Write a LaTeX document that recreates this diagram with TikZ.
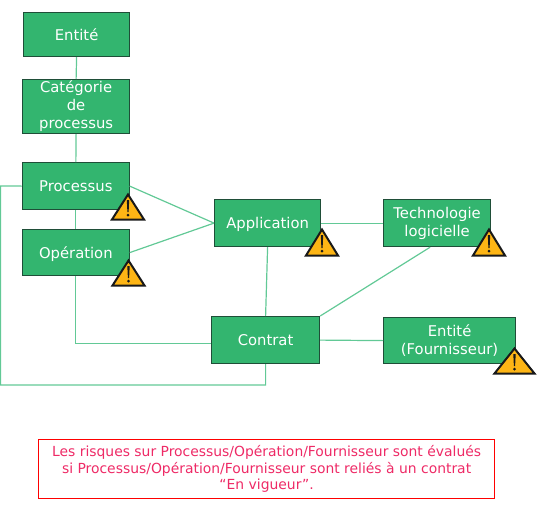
\documentclass[tikz,border=0pt]{standalone}
\usepackage{fontspec}
\setmainfont{DejaVu Sans}
\definecolor{boxfill}{HTML}{33B56F}
\definecolor{boxline}{HTML}{1F4E38}
\definecolor{linkc}{HTML}{62C996}
\definecolor{warnc}{HTML}{FDB515}
\definecolor{notec}{HTML}{EE2A66}
\tikzset{
  box/.style={draw=boxline,line width=1.2pt,fill=boxfill,text=white,inner sep=0pt,align=center,anchor=north west,
    font=\fontsize{14.8}{18}\selectfont,execute at begin node={\rule{0pt}{16.6pt}},execute at end node={\strut}},
  link/.style={draw=linkc,line width=1.2pt},
  warnshape/.style={draw=black!90,line width=2pt,fill=warnc,line join=miter},
}
% warning sign: #1 centre x, #2 apex y, #3 half width, #4 height
\newcommand{\warnsign}[4]{%
  \begin{scope}[shift={(#1,#2)}]
    \path[warnshape] (0,2) -- (#3-2,#4-1) -- (-#3+2,#4-1) -- cycle;
    \fill[black!90] (-1.2,7.5) -- (1.2,7.5) -- (0.6,#4-8.5) -- (-0.6,#4-8.5) -- cycle;
    \fill[black!90] (0,#4-5.5) circle (1.5);
  \end{scope}}
\begin{document}
\begin{tikzpicture}[x=1pt,y=-1pt]
\useasboundingbox (0,0) rectangle (555,515);
\node[box,minimum width=106pt,minimum height=44pt] (ent) at (23,12) {Entité};
\node[box,minimum width=107pt,minimum height=54pt,execute at end node={}] (cat) at (22,79) {\rule{0pt}{12.5pt}Catégorie\\de\\processus};
\node[box,minimum width=106.5pt,minimum height=47pt] (proc) at (22,162) {Processus};
\node[box,minimum width=106.5pt,minimum height=46pt] (oper) at (22,229) {\rule{0pt}{15pt}Opération};
\node[box,minimum width=106pt,minimum height=47pt] (app) at (214,199) {Application};
\node[box,minimum width=107pt,minimum height=47pt] (tech) at (383,199) {\rule{0pt}{15pt}Technologie\\logicielle};
\node[box,minimum width=108pt,minimum height=47pt] (con) at (211,316) {Contrat};
\node[box,minimum width=132pt,minimum height=46pt] (four) at (383,317) {\rule{0pt}{15pt}Entité\\(Fournisseur)};
\node[draw=red,line width=1.2pt,text=notec,inner sep=0pt,anchor=north west,align=center,
  minimum width=456pt,minimum height=59pt,font=\fontsize{13.9}{16.5}\selectfont] (note) at (38,439)
  {Les risques sur Processus/Opération/Fournisseur sont évalués\\si Processus/Opération/Fournisseur sont reliés à un contrat\\“En vigueur”.};
\coordinate (lt) at (0.5,186);
\coordinate (lb) at (0.5,385);
\draw[link] (ent.south) -- (cat.north);
\draw[link] (cat.south) -- (proc.north);
\draw[link] (proc.south) -- (oper.north);
\draw[link] (proc.west) -- (lt) -- (lb) -| (con.south);
\draw[link] (oper.south) |- ([yshift=-3.5pt]con.west);
\draw[link] (proc.east) -- (app.west);
\draw[link] (oper.east) -- (app.west);
\draw[link] (app.east) -- (tech.west);
\draw[link] (app.south) -- (con.north);
\draw[link] ([xshift=-7pt]tech.south) -- (con.north east);
\draw[link] (con.east) -- (four.west);
\warnsign{128}{192.5}{18}{28}
\warnsign{128.5}{258.5}{18}{28}
\warnsign{322}{227.5}{18}{29}
\warnsign{489}{227.5}{18}{29}
\warnsign{514.5}{346.5}{22}{28}
\end{tikzpicture}
\end{document}
